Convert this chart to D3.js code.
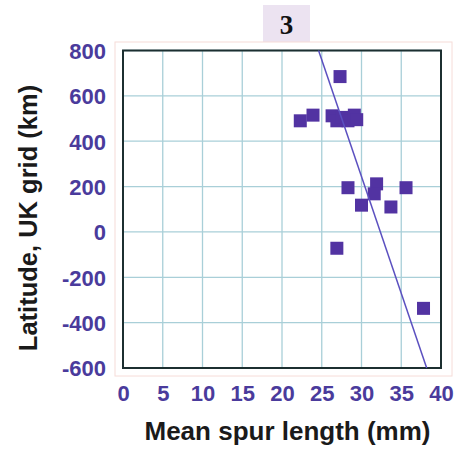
<!DOCTYPE html>
<html>

<head>
  <meta charset="UTF-8">
  <title>Spur length vs latitude</title>
  <script src="https://d3js.org/d3.v7.min.js"></script>
  <style>
    body {
      margin: 0;
      background: #fff;
    }

    .tick text {
      font-family: "Liberation Sans", Arial, sans-serif;
      font-weight: bold;
      font-size: 22px;
      fill: #4a3b9c;
    }

    .axis-title {
      font-family: "Liberation Sans", Arial, sans-serif;
      font-weight: bold;
      font-size: 26px;
      fill: #1a1a1a;
    }
  </style>
</head>

<body>
  <div id="chart"></div>
  <script>
    // spur length (mm) and latitude (km)
    var spurLength = [27.3, 22.3, 23.9, 26.3, 26.9, 27.6, 28.3, 29.1, 29.4,
      28.3, 31.9, 31.6, 30.0, 33.7, 35.6, 26.9, 37.8];
    var latitude = [685, 490, 515, 512, 490, 505, 490, 515, 495,
      195, 212, 168, 118, 110, 195, -72, -337];

    // fitted trend line end points
    var trendX = [24.6, 38.2];
    var trendY = [800, -600];

    var xTicks = [0, 5, 10, 15, 20, 25, 30, 35, 40];
    var yTicks = [-600, -400, -200, 0, 200, 400, 600, 800];

    var width = 458, height = 450;
    var svg = d3.select("#chart").append("svg")
      .attr("width", width)
      .attr("height", height);

    var x = d3.scaleLinear().domain([0, 40]).range([123, 441]);
    var y = d3.scaleLinear().domain([-600, 800]).range([368, 50.5]);
    var fmt = function (d) { return String(d); };

    // title box
    svg.append("rect")
      .attr("x", 263).attr("y", 5)
      .attr("width", 47).attr("height", 37)
      .attr("fill", "#ece3f1");
    svg.append("text")
      .attr("x", 286.5).attr("y", 34)
      .attr("text-anchor", "middle")
      .style("font-family", "'Liberation Serif', 'Times New Roman', serif")
      .style("font-weight", "bold")
      .style("font-size", "27px")
      .attr("fill", "#111")
      .text("3");

    // faint outer frame
    svg.append("rect")
      .attr("x", 115).attr("y", 42)
      .attr("width", 337).attr("height", 334)
      .attr("fill", "none")
      .attr("stroke", "#f6dcd8")
      .attr("stroke-width", 1);

    // grid
    svg.append("g")
      .selectAll("line")
      .data(xTicks)
      .enter().append("line")
      .attr("x1", function (d) { return x(d); })
      .attr("x2", function (d) { return x(d); })
      .attr("y1", y(800)).attr("y2", y(-600))
      .attr("stroke", "#a9cfd8")
      .attr("stroke-width", 1.3);

    svg.append("g")
      .selectAll("line")
      .data(yTicks)
      .enter().append("line")
      .attr("x1", x(0)).attr("x2", x(40))
      .attr("y1", function (d) { return y(d); })
      .attr("y2", function (d) { return y(d); })
      .attr("stroke", "#a9cfd8")
      .attr("stroke-width", 1.3);

    // axes
    var xAxis = svg.append("g")
      .attr("transform", "translate(0," + y(-600) + ")")
      .call(d3.axisBottom(x).tickValues(xTicks).tickFormat(fmt).tickSize(0).tickPadding(17));
    xAxis.select(".domain").remove();

    var yAxis = svg.append("g")
      .attr("transform", "translate(" + x(0) + ",0)")
      .call(d3.axisLeft(y).tickValues(yTicks).tickFormat(fmt).tickSize(0).tickPadding(17));
    yAxis.select(".domain").remove();
    yAxis.selectAll(".tick text").attr("dy", "0.36em");

    // plot frame
    svg.append("rect")
      .attr("x", x(0)).attr("y", y(800))
      .attr("width", x(40) - x(0))
      .attr("height", y(-600) - y(800))
      .attr("fill", "none")
      .attr("stroke", "#1c2f30")
      .attr("stroke-width", 2);

    // points
    var pts = spurLength.map(function (d, i) { return [d, latitude[i]]; });
    var size = 13;
    svg.append("g")
      .selectAll("rect")
      .data(pts)
      .enter().append("rect")
      .attr("x", function (d) { return x(d[0]) - size / 2; })
      .attr("y", function (d) { return y(d[1]) - size / 2; })
      .attr("width", size)
      .attr("height", size)
      .attr("fill", "#5233a2");

    // trend line
    svg.append("line")
      .attr("x1", x(trendX[0])).attr("y1", y(trendY[0]))
      .attr("x2", x(trendX[1])).attr("y2", y(trendY[1]))
      .attr("stroke", "#5b50c0")
      .attr("stroke-width", 1.5);

    // axis titles
    svg.append("text")
      .attr("class", "axis-title")
      .attr("x", 287.5).attr("y", 440)
      .attr("text-anchor", "middle")
      .text("Mean spur length (mm)");

    svg.append("text")
      .attr("class", "axis-title")
      .style("font-size", "25.5px")
      .attr("transform", "translate(37,218) rotate(-90)")
      .attr("text-anchor", "middle")
      .text("Latitude, UK grid (km)");
  </script>
</body>

</html>
